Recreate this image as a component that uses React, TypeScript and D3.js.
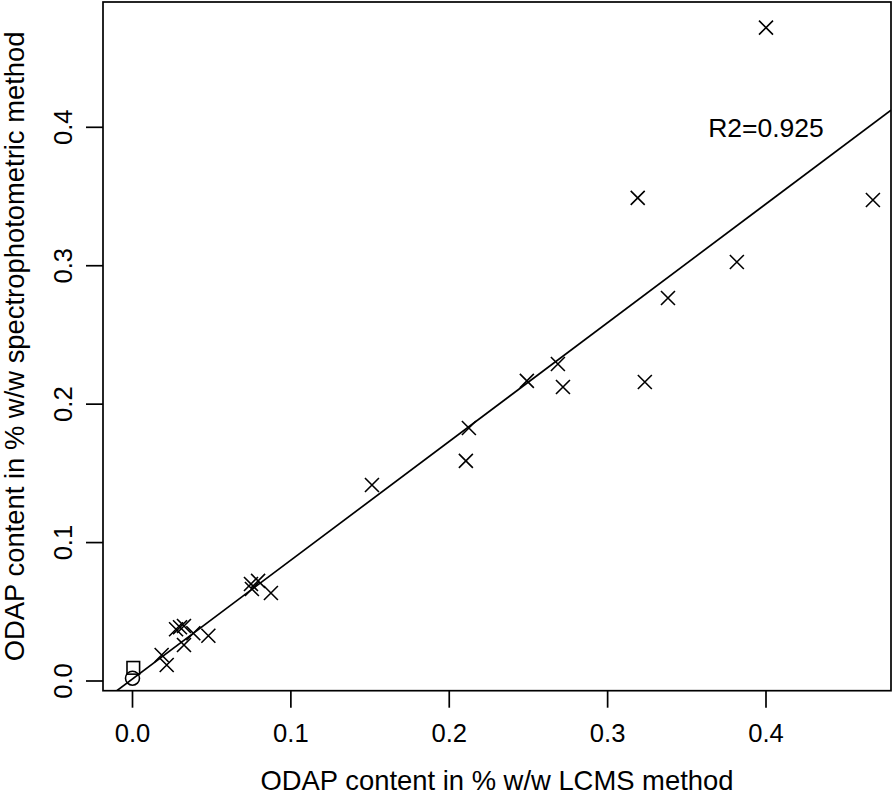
import React from "react";
import * as d3 from "d3";

// Samples (cross markers): LCMS vs spectrophotometric ODAP content (% w/w)
const lcms = [0.400, 0.4675, 0.319, 0.3816, 0.3381, 0.2686, 0.249, 0.2718, 0.3235, 0.2124, 0.2105, 0.1512, 0.0748, 0.0793, 0.0754, 0.0874, 0.0479, 0.0384, 0.0325, 0.0184, 0.0216, 0.0275, 0.030, 0.0325];
const spectro = [0.472, 0.3475, 0.349, 0.3027, 0.2767, 0.229, 0.2168, 0.2124, 0.216, 0.1828, 0.159, 0.1416, 0.0701, 0.0723, 0.0665, 0.0636, 0.0327, 0.0345, 0.026, 0.0188, 0.0116, 0.0374, 0.0388, 0.0397];
// Special points
const squarePoint = [0.0005, 0.0095];
const circlePoint = [0.0, 0.002];
// Regression line
const intercept = 0.0015;
const slope = 0.858;
const r2Label = "R2=0.925";
const xTicks = [0.0, 0.1, 0.2, 0.3, 0.4];
const yTicks = [0.0, 0.1, 0.2, 0.3, 0.4];
const xTitle = "ODAP content in % w/w LCMS method";
const yTitle = "ODAP content in % w/w spectrophotometric method";

const W = 894, H = 795;
const L = 103, R = 891, T = 2, B = 690.7;
const FONT = "'Liberation Sans', Arial, Helvetica, sans-serif";

export default function App() {
  const x = d3.scaleLinear().domain([0, 0.4]).range([132.5, 766]);
  const y = d3.scaleLinear().domain([0, 0.4]).range([681, 127.3]);
  const xd = [x.invert(L), x.invert(R)];
  const line = d3.line<number>().x((v) => x(v)).y((v) => y(intercept + slope * v));
  const cs = 7;
  return (
    <svg width={W} height={H} style={{ position: "absolute", left: 0, top: 0, background: "#fff" }}>
      <defs>
        <clipPath id="plotclip">
          <rect x={L} y={T} width={R - L} height={B - T} />
        </clipPath>
      </defs>
      <rect x={L} y={T} width={R - L} height={B - T} fill="none" stroke="#000" strokeWidth={1.7} />
      {xTicks.map((t) => (
        <g key={"x" + t}>
          <line x1={x(t)} x2={x(t)} y1={B} y2={B + 17} stroke="#000" strokeWidth={1.7} />
          <text x={x(t)} y={742} textAnchor="middle" fontFamily={FONT} fontSize={25.6}>{t.toFixed(1)}</text>
        </g>
      ))}
      {yTicks.map((t) => (
        <g key={"y" + t}>
          <line x1={L} x2={L - 17} y1={y(t)} y2={y(t)} stroke="#000" strokeWidth={1.7} />
          <text transform={`translate(72,${y(t)}) rotate(-90)`} textAnchor="middle" fontFamily={FONT} fontSize={25.6}>{t.toFixed(1)}</text>
        </g>
      ))}
      <text x={(L + R) / 2} y={790} textAnchor="middle" fontFamily={FONT} fontSize={27.4}>{xTitle}</text>
      <text transform={`translate(23.5,${(T + B) / 2}) rotate(-90)`} textAnchor="middle" fontFamily={FONT} fontSize={27.4}>{yTitle}</text>
      <g clipPath="url(#plotclip)">
        <path d={line(xd) || ""} fill="none" stroke="#000" strokeWidth={1.7} />
        {lcms.map((v, i) => {
          const px = x(v), py = y(spectro[i]);
          return (
            <path key={i} d={`M${px - cs},${py - cs}L${px + cs},${py + cs}M${px - cs},${py + cs}L${px + cs},${py - cs}`} stroke="#000" strokeWidth={1.6} fill="none" />
          );
        })}
        <rect x={x(squarePoint[0]) - 6.3} y={y(squarePoint[1]) - 6.3} width={12.6} height={12.6} fill="none" stroke="#000" strokeWidth={1.6} />
        <circle cx={x(circlePoint[0])} cy={y(circlePoint[1])} r={7} fill="none" stroke="#000" strokeWidth={1.6} />
      </g>
      <text x={x(0.4)} y={y(0.4)} dy="0.36em" textAnchor="middle" fontFamily={FONT} fontSize={26.5}>{r2Label}</text>
    </svg>
  );
}
